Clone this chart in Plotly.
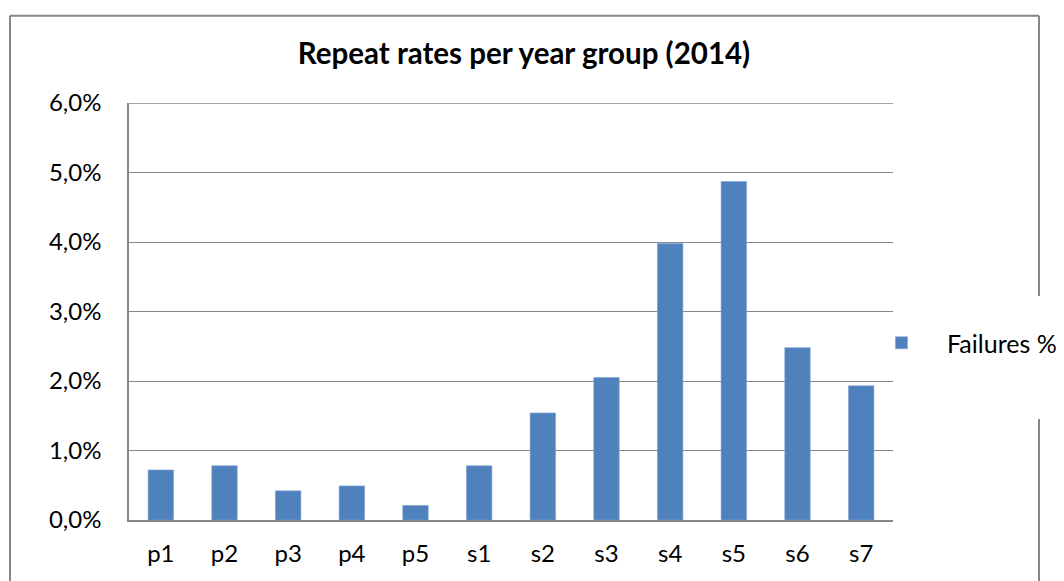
import plotly.graph_objects as go

categories = ["p1", "p2", "p3", "p4", "p5", "s1", "s2", "s3", "s4", "s5", "s6", "s7"]
failures = [0.0072, 0.0078, 0.0042, 0.0049, 0.0021, 0.0078, 0.0154, 0.0205, 0.0398, 0.0487, 0.0248, 0.0193]
series_name = "Failures %"
title_text = "Repeat rates per year group (2014)"
y_max = 0.06

# the html page has an 8px body margin; shift the figure so it lands at the window origin
OFF = 8
W_FIG, H_FIG = 1064 - OFF, 581 - OFF
L, R, T, B = 129 - OFF, 893 - OFF, 103 - OFF, 520 - OFF
FONT = "Lato, 'Open Sans', sans-serif"
GRAY = "#878787"


def px(x):
    return (x - OFF - L) / (R - L)


def py(y):
    return (B - (y - OFF)) / (B - T)


fig = go.Figure()
fig.add_trace(go.Bar(
    x=categories, y=failures, name=series_name,
    marker=dict(color="#4F81BD", line=dict(color="#7FA3D2", width=0.6)),
    showlegend=True,
))

border = dict(color=GRAY, width=2)
shapes = [
    dict(type="line", xref="paper", yref="paper", x0=px(10), x1=px(1039), y0=py(15.7), y1=py(15.7), line=border),
    dict(type="line", xref="paper", yref="paper", x0=px(10), x1=px(10), y0=py(15.7), y1=py(600), line=border),
    dict(type="line", xref="paper", yref="paper", x0=px(1039), x1=px(1039), y0=py(15.7), y1=py(296), line=border),
    dict(type="line", xref="paper", yref="paper", x0=px(1039), x1=px(1039), y0=py(419), y1=py(600), line=border),
    # top gridline at the range maximum
    dict(type="line", xref="paper", yref="y", x0=0, x1=1, y0=y_max, y1=y_max, line=dict(color=GRAY, width=1.3)),
]

fig.update_layout(
    width=W_FIG, height=H_FIG,
    margin=dict(l=L, r=W_FIG - R, t=T, b=H_FIG - B, autoexpand=False),
    paper_bgcolor="white", plot_bgcolor="white",
    separators=", ",
    font=dict(family=FONT, size=24, color="black"),
    title=dict(text="<b>" + title_text + "</b>", x=(524 - OFF) / W_FIG, xanchor="center",
               y=1 - (54 - OFF) / H_FIG, yanchor="middle", font=dict(size=29.5, family=FONT)),
    bargap=0.6,
    shapes=shapes,
    showlegend=True,
    legend=dict(x=px(856), xanchor="left", y=py(343), yanchor="middle",
                bgcolor="rgba(0,0,0,0)", font=dict(size=25), itemwidth=81),
    xaxis=dict(showline=True, linecolor=GRAY, linewidth=1.5, ticks="", showgrid=False,
               ticklabelstandoff=11, tickfont=dict(size=24)),
    yaxis=dict(range=[0, y_max], dtick=0.01, tickformat=".1%", showline=True, linecolor=GRAY,
               linewidth=1.5, showgrid=True, gridcolor=GRAY, gridwidth=1.3, zeroline=False,
               ticks="", ticklabelstandoff=21, tickfont=dict(size=24)),
)

fig.write_html("out.html")
